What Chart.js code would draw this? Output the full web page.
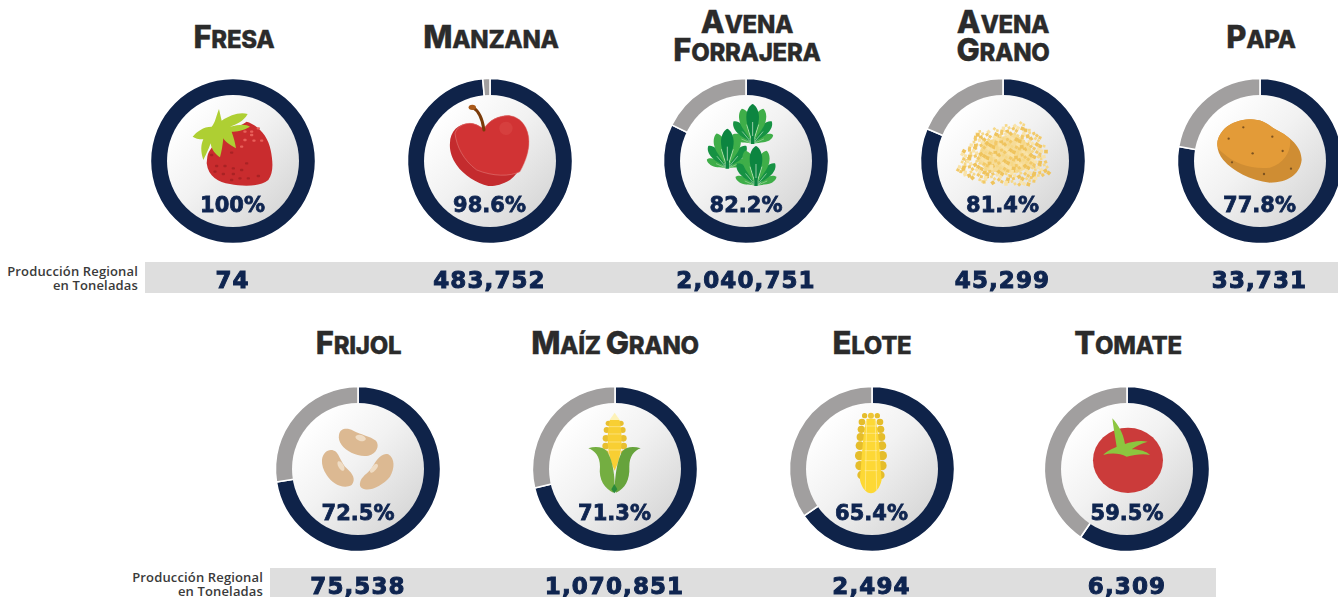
<!DOCTYPE html>
<html><head><meta charset="utf-8">
<script src="https://cdn.jsdelivr.net/npm/chart.js@4/dist/chart.umd.min.js"></script>
<style>
html,body{margin:0;padding:0;background:#fff;width:1338px;height:597px;overflow:hidden;position:relative}
.band{position:absolute;background:#dedede}
canvas.d{position:absolute}
.title{position:absolute;width:280px;text-align:center;font-family:Inter,sans-serif;font-weight:800;color:#2b2b2b;text-transform:uppercase;letter-spacing:-.3px;font-size:24px;line-height:28px;-webkit-text-stroke:.35px #2b2b2b;white-space:nowrap}
.title b{font-size:31px;font-weight:800;line-height:0}
.pct,.val{position:absolute;width:200px;text-align:center;font-family:"DejaVu Sans",sans-serif;font-weight:700;color:#0f2550;white-space:nowrap}
.pct{font-size:21px;line-height:24px;-webkit-text-stroke:.8px #0f2550}
.val{font-size:23px;line-height:26px;letter-spacing:1.1px;-webkit-text-stroke:1px #0f2550}
.lab{position:absolute;width:160px;text-align:right;font-family:"Open Sans",sans-serif;font-weight:600;font-size:13px;line-height:14px;letter-spacing:.15px;color:#3a3a3a;white-space:nowrap}
svg#icons{position:absolute;left:0;top:0;pointer-events:none}
</style></head><body>
<script>
// ---- data ----
const crops = ["Fresa","Manzana","Avena|Forrajera","Avena|Grano","Papa","Frijol","Maíz Grano","Elote","Tomate"];
const sharePct = [100,98.6,82.2,81.4,77.8,72.5,71.3,65.4,59.5];
const tonnes = ["74","483,752","2,040,751","45,299","33,731","75,538","1,070,851","2,494","6,309"];
const rowLabel = ["Producción Regional","en Toneladas"];

// ---- layout ----
const centersX = [232.5,489.5,746,1002.5,1259.5,358,614.5,871.5,1127];
const centersY = [161,161,161,161,161,468.5,468.5,468.5,468.5];
const titleX = [234,491,747,1003,1261,358.5,615,872,1128];
const titleBase = [50,50,63,63,50,356,356,356,356];
const valY = [280,280,280,280,280,586,586,586,586];
const NAVY="#0f2349", GREY="#a19f9f";

function el(cls,css,html){const d=document.createElement('div');d.className=cls;Object.assign(d.style,css);if(html!=null)d.innerHTML=html;document.body.appendChild(d);return d;}
el('band',{left:'145px',top:'262px',width:'1193px',height:'31px'});
el('band',{left:'270px',top:'568px',width:'946px',height:'29px'});
el('lab',{left:'-22px',top:'264px'},rowLabel.join('<br>'));
el('lab',{left:'103px',top:'570px'},rowLabel.join('<br>'));

const disk={id:'disk',afterDatasetsDraw(c){const m=c.getDatasetMeta(0).data[0];const x=m.x,y=m.y,r=66;const g=c.ctx.createLinearGradient(x-47,y-47,x+47,y+47);
 g.addColorStop(0,'#ffffff');g.addColorStop(.45,'#f2f2f2');g.addColorStop(1,'#d9d9d9');c.ctx.save();c.ctx.fillStyle=g;c.ctx.beginPath();c.ctx.arc(x,y,r,0,Math.PI*2);c.ctx.fill();c.ctx.restore();}};

function caps(s){return s.replace(/[A-ZÁÉÍÓÚ]/g,m=>'<b>'+m+'</b>');}
crops.forEach((name,i)=>{
 const cv=document.createElement('canvas');cv.className='d';cv.width=180;cv.height=180;
 cv.style.cssText=`left:${centersX[i]-90}px;top:${centersY[i]-90}px;width:180px;height:180px`;
 document.body.appendChild(cv);
 new Chart(cv,{type:'doughnut',plugins:[disk],data:{labels:['Producción','Resto'],datasets:[{
   data:[sharePct[i],+(100-sharePct[i]).toFixed(1)],backgroundColor:[NAVY,GREY],
   borderColor:'#fff',borderWidth:sharePct[i]===100?0:1.6}]},
  options:{responsive:false,animation:false,radius:sharePct[i]===100?81.8:82.6,cutout:60,layout:{padding:0},plugins:{legend:{display:false},tooltip:{enabled:false}},events:[]}});
 const lines=name.split('|');
 const h=28*lines.length;
 el('title',{left:(titleX[i]-140)+'px',top:(titleBase[i]-h+4)+'px'},lines.map(caps).join('<br>'));
 el('pct',{left:(centersX[i]-100)+'px',top:(centersY[i]+32)+'px'},sharePct[i]+'%');
 el('val',{left:(centersX[i]-100)+'px',top:(valY[i]-13)+'px'},tonnes[i]);
});

// ---- decorative crop icons (not data) ----
function seeds(pts,c,w,h){return pts.map(p=>`<rect x="${p[0]-w/2}" y="${p[1]-h/2}" width="${w}" height="${h}" rx="3" fill="${c}"/>`).join('');}
const strawberry=`<g transform="translate(130,0) scale(.3333)">
<path d="M232 470C240 430 300 395 350 365C385 375 415 410 422 450C430 490 430 520 415 540C390 560 340 560 300 552C265 548 235 530 230 490Z" fill="#c92c2e"/>
${seeds([[345,395],[365,395],[385,385],[345,420],[372,422],[395,422],[365,405],[335,440]],'#e8605a',10,7)}
${seeds([[305,458],[350,490],[260,498],[285,498],[310,505],[335,510],[255,515],[280,522],[310,522],[330,535],[355,535],[385,528],[305,540],[245,465]],'#a92224',10,7)}
<path d="M267 327L275 362C300 345 330 335 353 342C340 365 320 372 300 380C330 372 350 372 360 380C340 392 320 395 305 395C312 415 316 430 318 445C300 435 285 425 280 415C278 435 275 455 270 472C255 462 245 450 242 430C235 450 225 470 220 480C212 455 212 435 220 418C205 418 195 415 188 410C200 395 220 380 245 380C255 370 258 350 267 327Z" fill="#aecf33"/></g>`;
const apple=`<g transform="translate(130,0) scale(.3333)">
<path d="M960 430C960 395 985 370 1020 370C1035 370 1050 378 1062 388C1075 360 1110 345 1140 347C1175 352 1197 385 1197 425C1197 470 1170 515 1140 540C1115 555 1090 560 1075 558C1040 550 1000 525 980 495C965 475 958 450 960 430Z" fill="#c42b2e"/>
<path d="M975 400C980 440 1000 480 1040 510C1090 530 1140 530 1170 515C1190 480 1197 450 1197 425C1197 385 1175 352 1140 347C1110 345 1075 360 1062 388C1050 378 1035 370 1020 370C995 370 980 385 975 400Z" fill="#d13334" stroke="#e58a85" stroke-width="1.5"/>
<circle cx="1128" cy="385" r="20" fill="#d63f3e"/>
<path d="M1062 390C1058 360 1050 335 1028 322" stroke="#7a3b0a" stroke-width="9" fill="none" stroke-linecap="round"/>
<ellipse cx="1027" cy="322" rx="11" ry="8" fill="#a9591a"/></g>`;
function plant(bx,by){const leaf="M0 0C-3 -30 -20 -55 -19 -82C-18 -105 -8 -116 0 -120C8 -116 18 -105 19 -82C20 -55 3 -30 0 0Z";
 const spec=[[-66,.56,'#3fae49'],[66,.56,'#3fae49'],[-40,.74,'#169243'],[40,.74,'#169243'],[-17,.92,'#3fae49'],[17,.92,'#3fae49'],[0,1,'#0c8540']];
 return `<g transform="translate(${bx},${by})">`+spec.map(s=>`<g transform="rotate(${s[0]}) scale(${s[1]})"><path d="${leaf}" fill="${s[2]}"/><path d="M0 -4L0 -66" stroke="#dff2dc" stroke-width="2"/></g>`).join('')+`<path d="M-5 -24L5 -24L5 0L-5 0Z" fill="#0c8540"/></g>`;}
const spinach=`<g transform="translate(640,0) scale(.3333)">${plant(338,432)}${plant(262,506)}${plant(348,558)}</g>`;
function inPoly(x,y,P){let c=false;for(let i=0,j=P.length-1;i<P.length;j=i++){if((P[i][1]>y)!=(P[j][1]>y)&&x<(P[j][0]-P[i][0])*(y-P[i][1])/(P[j][1]-P[i][1])+P[i][0])c=!c;}return c;}
function oats(){const P=[[1000,395],[1140,360],[1205,410],[1232,510],[1160,550],[1020,545],[948,515],[960,460]];const cols=['#f6d887','#f2c968','#f9e3a8','#efc35c'];let s='';
 s+=`<path d="M1030 425L1125 400L1170 435L1185 495L1130 520L1045 515L1010 480Z" fill="#f6dc98"/>`;
 for(let i=1;i<430;i++){const x=945+((i*0.7548777)%1)*290,y=358+((i*0.5698403)%1)*200;if(!inPoly(x,y,P))continue;const z=8+(i%4);s+=`<rect x="${x.toFixed(1)}" y="${y.toFixed(1)}" width="${z}" height="${z}" fill="${cols[i%4]}" transform="rotate(${(i*37)%90} ${x.toFixed(1)} ${y.toFixed(1)})"/>`;}
 return `<g transform="translate(640,0) scale(.3333)">${s}</g>`;}
const potatoDots=[[460,382],[416,416],[547,410],[488,460],[578,453],[426,487],[522,522],[603,506]];
const potato=`<g transform="translate(1090,0) scale(.3333)">
<path d="M382 430C385 395 420 360 480 358C520 358 535 375 560 390C600 410 635 440 635 480C630 525 590 548 540 548C480 540 430 515 400 480C388 465 381 450 382 430Z" fill="#cf8d33"/>
<path d="M382 430C385 395 420 360 480 358C520 358 535 375 560 390C575 398 590 405 600 418C605 450 585 490 540 503C490 510 430 490 400 460C388 450 381 445 382 430Z" fill="#e39b38"/>
${potatoDots.map(p=>`<circle cx="${p[0]}" cy="${p[1]}" r="3.5" fill="#7d5320"/>`).join('')}</g>`;
const beans=`<g transform="translate(120,320) scale(.3333)" fill="#dcb992">
<path d="M657 345C660 325 680 322 700 332C725 345 750 348 768 362C780 378 770 400 745 407C715 412 680 395 665 375C658 365 655 355 657 345Z"/>
<path d="M606 420C608 395 630 382 648 395C658 405 665 430 680 445C700 462 708 480 695 495C670 510 635 490 620 465C610 450 605 435 606 420Z"/>
<path d="M720 490C722 470 745 460 755 445C765 425 785 395 805 403C825 415 825 445 810 470C790 495 755 512 735 508C725 506 718 500 720 490Z"/>
<ellipse cx="722" cy="354" rx="16" ry="9" transform="rotate(15 722 354)" fill="#efdcc4"/>
<ellipse cx="663" cy="438" rx="8" ry="16" transform="rotate(-30 663 438)" fill="#efdcc4"/>
<ellipse cx="762" cy="445" rx="7" ry="16" transform="rotate(40 762 445)" fill="#efdcc4"/></g>`;
function kernels(rows,cx,col){return rows.map(r=>`<circle cx="${cx-r[1]}" cy="${r[0]}" r="${r[2]}" fill="${col}"/><circle cx="${cx+r[1]}" cy="${r[0]}" r="${r[2]}" fill="${col}"/>`).join('');}
const grid=(ys,x1,x2)=>ys.map(y=>`<path d="M${x1} ${y}L${x2} ${y}" stroke="#fff3c0" stroke-width="1.5"/>`).join('');
const maize=`<g transform="translate(520,320) scale(.3333)">
<path d="M284 278L302 304L266 304Z" fill="#fdf2b8"/>
${kernels([[310,19,8],[330,24,9],[355,26,10],[378,27,10],[400,27,9]],284,'#e8bf30')}
<path d="M270 300L298 300C308 340 310 400 284 452C258 400 260 340 270 300Z" fill="#f8cf33"/>
${grid([320,342,366,390],266,302)}
<path d="M205 385C225 378 250 380 262 395C280 425 285 470 284 510L280 518C255 505 235 480 240 440C240 410 225 392 205 385Z" fill="#74ae41"/>
<path d="M362 385C340 378 318 380 306 395C290 425 285 470 284 510L288 518C315 505 330 480 328 440C328 410 342 392 362 385Z" fill="#66a33c"/>
<path d="M283 492L292 508L283 520L274 508Z" fill="#2a8a3b"/></g>`;
const elote=`<g transform="translate(520,320) scale(.3333)">
${kernels([[287,19,8],[306,27,10],[328,29,11],[351,31,12],[377,33,13],[407,34,14],[437,33,14],[465,28,13]],1053,'#e5bd2b')}
<circle cx="1053" cy="287" r="9" fill="#eec636"/>
<path d="M1040 296L1066 296C1078 340 1082 440 1085 480C1080 505 1065 520 1053 520C1040 520 1025 505 1020 480C1024 440 1028 340 1040 296Z" fill="#fdd835"/>
${grid([318,340,364,392,422,452],1034,1072)}
<path d="M1040 300L1036 510M1066 300L1070 510" stroke="#fff3c0" stroke-width="1.5" fill="none"/></g>`;
const tomato=`<g transform="translate(1000,320) scale(.3333)">
<ellipse cx="384" cy="421" rx="105" ry="98" fill="#cb3b3a"/>
<path d="M337 295C355 315 370 340 375 372C395 365 420 360 443 365C420 372 405 380 395 388C420 388 440 395 450 405C425 400 405 405 380 410C360 400 335 398 310 405C320 392 340 385 350 380C345 350 340 320 337 295Z" fill="#8cc63f"/></g>`;
const svg=document.createElementNS('http://www.w3.org/2000/svg','svg');svg.id='icons';svg.setAttribute('width','1338');svg.setAttribute('height','597');
svg.innerHTML=strawberry+apple+spinach+oats()+potato+beans+maize+elote+tomato;document.body.appendChild(svg);
</script></body></html>
